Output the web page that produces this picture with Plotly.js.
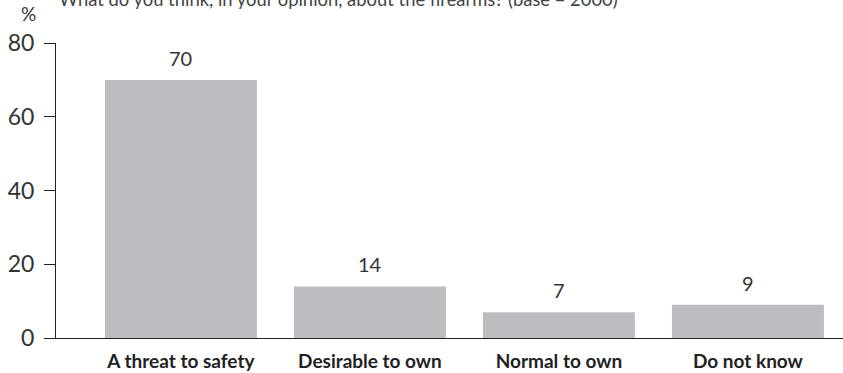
<!DOCTYPE html>
<html>
<head>
<meta charset="utf-8">
<script src="https://cdn.plot.ly/plotly-3.0.1.min.js"></script>
<style>html,body{margin:0;padding:0;background:#fff}#chart{width:843px;height:373px}</style>
</head>
<body>
<div id="chart"></div>
<script>
// Survey answers on firearms, percentage of respondents
const categories = ["A threat to safety", "Desirable to own", "Normal to own", "Do not know"];
const shares = [70, 14, 7, 9];
const yTicks = [0, 20, 40, 60, 80];

const font = "Lato, Open Sans, sans-serif";

const bars = {
  type: "bar",
  x: categories,
  y: shares,
  marker: {color: "#bcbdc1"},
  hoverinfo: "x+y"
};

// value labels sitting above each bar
const valueLabels = categories.map((c, i) => ({
  x: c, y: shares[i], xref: "x", yref: "y",
  text: String(shares[i]), showarrow: false,
  yanchor: "middle", yshift: 22,
  font: {family: font, size: 20, color: "#333"}
}));

const layout = {
  width: 843, height: 373,
  margin: {l: 56, r: 0, t: 43, b: 35},
  paper_bgcolor: "#fff", plot_bgcolor: "#fff",
  showlegend: false,
  bargap: 0.196,
  xaxis: {
    range: [-0.661, 3.503],
    showline: true, linecolor: "#222", linewidth: 1,
    ticks: "", showgrid: false, zeroline: false,
    tickfont: {family: font, size: 19, color: "#222", weight: "bold"},
    ticklabelstandoff: 6
  },
  yaxis: {
    range: [0, 80],
    tickvals: yTicks,
    showline: true, linecolor: "#222", linewidth: 1,
    ticks: "outside", ticklen: 11, tickcolor: "#222",
    showgrid: false, zeroline: false,
    tickfont: {family: font, size: 23, color: "#333"},
    ticklabelstandoff: 5
  },
  annotations: valueLabels.concat([
    {xref: "paper", yref: "paper", x: -0.0345, y: 1.1, xanchor: "center", yanchor: "middle",
     text: "%", showarrow: false, font: {family: font, size: 19, color: "#333"}},
    {xref: "paper", yref: "paper", x: 0.001, y: 1.149, xanchor: "left", yanchor: "middle",
     text: "What do you think, in your opinion, about the firearms? (base = 2000)",
     showarrow: false, font: {family: font, size: 18.4, color: "#444"}}
  ])
};

Plotly.newPlot("chart", [bars], layout, {displayModeBar: false, staticPlot: true});
</script>
</body>
</html>
